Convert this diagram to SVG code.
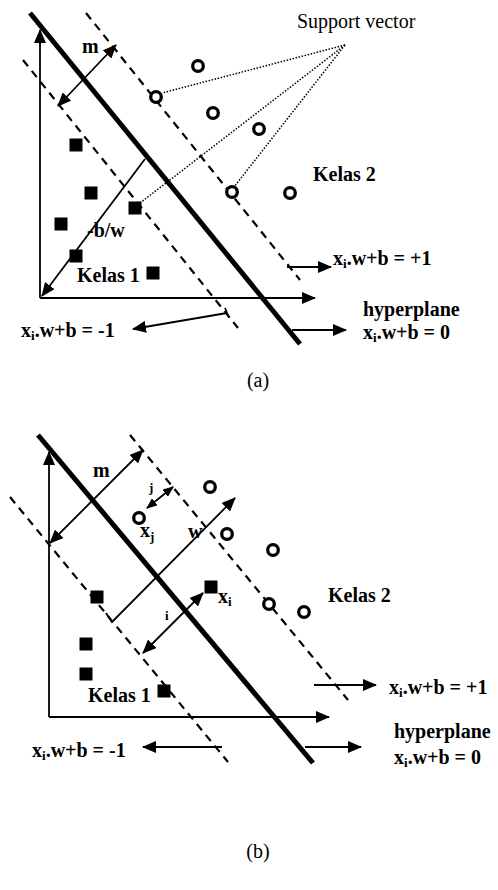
<svg xmlns="http://www.w3.org/2000/svg" width="498" height="890" viewBox="0 0 498 890">
<defs>
<style>
.thick{stroke:#000;stroke-width:5;fill:none}
.dash{stroke:#000;stroke-width:2.2;stroke-dasharray:8 6;fill:none}
.ln{stroke:#000;stroke-width:1.8;fill:none}
.dot{stroke:#000;stroke-width:1.5;stroke-dasharray:1.5 1.6;fill:none}
.sq{fill:#000}
.ci{fill:#fff;stroke:#000;stroke-width:3.3}
.lb{font-family:"Liberation Serif","Times New Roman",serif;font-weight:bold;font-size:20px;fill:#000}
.rg{font-family:"Liberation Serif","Times New Roman",serif;font-size:20px;fill:#000}
.sm{font-family:"Liberation Serif","Times New Roman",serif;font-weight:bold;font-size:13px;fill:#000}
</style>
<marker id="ah" viewBox="0 0 14 12" refX="13" refY="6" markerWidth="14" markerHeight="12" markerUnits="userSpaceOnUse" orient="auto-start-reverse"><path d="M0,0 L14,6 L0,12 z" fill="#000"/></marker>
<marker id="as" viewBox="0 0 11 9" refX="10" refY="4.5" markerWidth="11" markerHeight="9" markerUnits="userSpaceOnUse" orient="auto-start-reverse"><path d="M0,0 L11,4.5 L0,9 z" fill="#000"/></marker>
</defs>

<!-- ===== (a) ===== -->
<g id="a-planes">
<line class="thick" x1="30" y1="13" x2="300" y2="344"/>
<line class="dash" x1="86" y1="13" x2="300" y2="280"/>
<line class="dash" x1="23" y1="60" x2="238" y2="328"/>
</g>
<g id="a-connectors">
<line class="ln" x1="40" y1="298" x2="40" y2="30" marker-end="url(#ah)"/>
<line class="ln" x1="40" y1="298" x2="315" y2="298" marker-end="url(#ah)"/>
<line class="ln" x1="58" y1="106" x2="116" y2="45" marker-start="url(#ah)" marker-end="url(#ah)"/>
<line class="ln" x1="145" y1="159" x2="42" y2="296" marker-end="url(#ah)"/>
<line class="ln" x1="227" y1="313" x2="133" y2="329" marker-end="url(#ah)"/>
<line class="ln" x1="225" y1="308" x2="229" y2="318"/>
<line class="ln" x1="287" y1="267" x2="331" y2="267" marker-end="url(#ah)"/>
<line class="ln" x1="292" y1="330" x2="346" y2="330" marker-end="url(#ah)"/>
<line class="dot" x1="345" y1="45" x2="162" y2="93"/>
<line class="dot" x1="345" y1="45" x2="140" y2="203"/>
<line class="dot" x1="345" y1="45" x2="234" y2="187"/>
</g>
<g id="a-class2">
<circle class="ci" cx="198" cy="66" r="5.3"/>
<circle class="ci" cx="156" cy="97" r="5.3"/>
<circle class="ci" cx="213" cy="113" r="5.3"/>
<circle class="ci" cx="259" cy="129" r="5.3"/>
<circle class="ci" cx="232" cy="192" r="5.3"/>
<circle class="ci" cx="290" cy="193" r="5.3"/>
</g>
<g id="a-class1">
<rect class="sq" x="69.5" y="138.5" width="13" height="13"/>
<rect class="sq" x="84.5" y="186.5" width="13" height="13"/>
<rect class="sq" x="54.5" y="217.5" width="13" height="13"/>
<rect class="sq" x="69.5" y="249.5" width="13" height="13"/>
<rect class="sq" x="146.5" y="266.5" width="13" height="13"/>
<rect class="sq" x="128.5" y="201.5" width="13" height="13"/>
</g>
<g id="a-labels">
<text class="rg" x="297" y="28">Support vector</text>
<text class="lb" x="82" y="53">m</text>
<text class="lb" x="313" y="181">Kelas 2</text>
<text class="lb" x="87" y="237">-b/w</text>
<text class="lb" x="77" y="282">Kelas 1</text>
<text class="lb" x="21" y="337">x<tspan font-size="13" dy="3">i</tspan><tspan dy="-3">.w+b = -1</tspan></text>
<text class="lb" x="333" y="265">x<tspan font-size="13" dy="3">i</tspan><tspan dy="-3">.w+b = +1</tspan></text>
<text class="lb" x="363" y="316">hyperplane</text>
<text class="lb" x="363" y="339">x<tspan font-size="13" dy="3">i</tspan><tspan dy="-3">.w+b = 0</tspan></text>
<text class="rg" x="258" y="387" text-anchor="middle">(a)</text>
</g>

<!-- ===== (b) ===== -->
<g id="b-planes">
<line class="thick" x1="38" y1="435" x2="313" y2="763"/>
<line class="dash" x1="130" y1="435" x2="348" y2="700"/>
<line class="dash" x1="10" y1="497" x2="228" y2="762"/>
</g>
<g id="b-connectors">
<line class="ln" x1="49" y1="717" x2="49" y2="452" marker-end="url(#ah)"/>
<line class="ln" x1="49" y1="717" x2="329" y2="717" marker-end="url(#ah)"/>
<line class="ln" x1="50" y1="543" x2="143" y2="450" marker-start="url(#ah)" marker-end="url(#ah)"/>
<line class="ln" x1="147" y1="508" x2="173" y2="487" marker-start="url(#as)" marker-end="url(#as)"/>
<polyline class="ln" points="106,613 112,622 235,498" marker-end="url(#ah)"/>
<line class="ln" x1="143" y1="653" x2="203" y2="593" marker-start="url(#ah)" marker-end="url(#ah)"/>
<line class="ln" x1="222" y1="747" x2="143" y2="747" marker-end="url(#ah)"/>
<line class="ln" x1="314" y1="685" x2="376" y2="685" marker-end="url(#ah)"/>
<line class="ln" x1="305" y1="747" x2="361" y2="747" marker-end="url(#ah)"/>
</g>
<g id="b-class2">
<circle class="ci" cx="139" cy="518" r="5.3"/>
<circle class="ci" cx="210" cy="487" r="5.3"/>
<circle class="ci" cx="227" cy="534" r="5.3"/>
<circle class="ci" cx="273" cy="550" r="5.3"/>
<circle class="ci" cx="269" cy="604" r="5.3"/>
<circle class="ci" cx="304" cy="612" r="5.3"/>
</g>
<g id="b-class1">
<rect class="sq" x="90.5" y="590.5" width="13" height="13"/>
<rect class="sq" x="204.5" y="580.5" width="13" height="13"/>
<rect class="sq" x="79.5" y="637.5" width="13" height="13"/>
<rect class="sq" x="79.5" y="667.5" width="13" height="13"/>
<rect class="sq" x="157.5" y="684.5" width="13" height="13"/>
</g>
<g id="b-labels">
<text class="lb" x="93" y="477">m</text>
<text class="sm" x="149" y="492">j</text>
<text class="lb" x="140" y="537">x<tspan font-size="13" dy="4">j</tspan></text>
<text class="lb" x="188" y="538">w</text>
<text class="lb" x="218" y="603">x<tspan font-size="13" dy="3">i</tspan></text>
<text class="sm" x="165" y="620">i</text>
<text class="lb" x="328" y="602">Kelas 2</text>
<text class="lb" x="88" y="702">Kelas 1</text>
<text class="lb" x="32" y="757">x<tspan font-size="13" dy="3">i</tspan><tspan dy="-3">.w+b = -1</tspan></text>
<text class="lb" x="389" y="694">x<tspan font-size="13" dy="3">i</tspan><tspan dy="-3">.w+b = +1</tspan></text>
<text class="lb" x="394" y="738">hyperplane</text>
<text class="lb" x="394" y="764">x<tspan font-size="13" dy="3">i</tspan><tspan dy="-3">.w+b = 0</tspan></text>
<text class="rg" x="258" y="858" text-anchor="middle">(b)</text>
</g>
</svg>
